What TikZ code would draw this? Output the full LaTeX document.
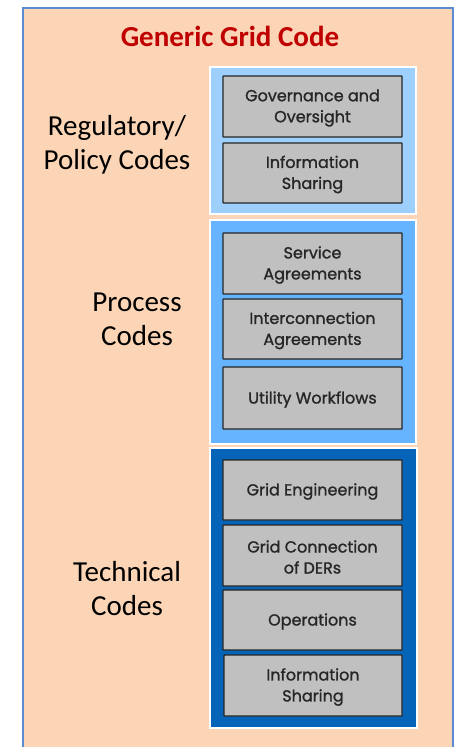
\documentclass[tikz,border=0pt]{standalone}
\usepackage{fontspec}
\setmainfont{Carlito}
\newfontfamily\boxfont[FakeBold=1.2]{Poppins}
\definecolor{peach}{HTML}{FBD5B5}
\definecolor{frameblue}{HTML}{5B8BD0}
\definecolor{paleblue}{HTML}{9DCFFF}
\definecolor{midblue}{HTML}{66B3FF}
\definecolor{deepblue}{HTML}{0563B8}
\definecolor{cellgray}{HTML}{C0C0C0}
\definecolor{titlered}{HTML}{C00000}
\tikzset{
  panel/.style={draw=white, line width=1.5pt},
  cell/.style={draw=black!85, line width=1.4pt, fill=cellgray, rounded corners=0.5pt},
  celltext/.style={font=\boxfont\fontsize{16}{21}\selectfont, text=black!85, align=center, yshift=-1.5pt},
  sidelabel/.style={font=\fontsize{29}{34}\selectfont, align=center, text=black}
}
\begin{document}
\begin{tikzpicture}[x=1pt,y=-1pt]
\useasboundingbox (0,0) rectangle (457,747);
\fill[white] (0,0) rectangle (457,747);
% outer frame
\draw[fill=peach, draw=frameblue, line width=2pt] (23,8) rectangle (453,760);
\node[font=\bfseries\fontsize{29}{34}\selectfont, text=titlered] (title) at (230,36.5) {Generic Grid Code};

% grouping panels
\draw[panel, fill=paleblue] (210,67) rectangle (416,214);
\draw[panel, fill=midblue] (210,220) rectangle (416,444);
\draw[panel, fill=deepblue] (210,448) rectangle (417,728);

% cells
\newcommand{\cellbox}[5]{%
  \draw[cell] (#2,#3) rectangle (402,#4);
  \node[celltext] (#1) at ({(#2+402)/2},{(#3+#4)/2}) {#5};}
\cellbox{gov}{223}{76}{137}{Governance and\\Oversight}
\cellbox{infoA}{223}{143}{203}{Information\\Sharing}
\cellbox{svc}{223}{233}{294}{Service\\Agreements}
\cellbox{icon}{223}{299}{359}{Interconnection\\Agreements}
\cellbox{util}{223}{367}{429}{Utility Workflows}
\cellbox{eng}{223}{460}{520}{Grid Engineering}
\cellbox{der}{223}{525}{586}{Grid Connection\\of DERs}
\cellbox{ops}{223}{590}{650}{Operations}
\cellbox{infoB}{224}{655}{716}{Information\\Sharing}

% category labels
\node[sidelabel] (reg) at (117,145) {Regulatory/\\Policy Codes};
\node[sidelabel] (proc) at (137,319) {Process\\Codes};
\node[sidelabel] (tech) at (127,589) {Technical\\Codes};
\end{tikzpicture}
\end{document}
